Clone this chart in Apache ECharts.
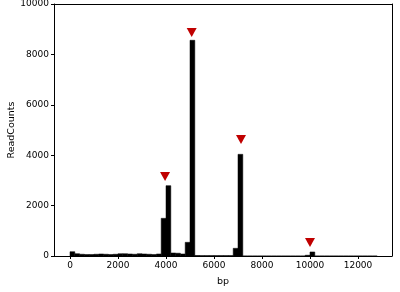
<!DOCTYPE html>
<html><head><meta charset="utf-8">
<script src="https://cdn.jsdelivr.net/npm/echarts@6/dist/echarts.min.js"></script>
<style>html,body{margin:0;padding:0;background:#fff}#c{width:400px;height:292px}</style>
</head><body><div id="c"></div>
<script>
// Histogram bins (start bp, width 200)
const binWidth = 200;
const binStarts = [0,200,400,600,800,1000,1200,1400,1600,1800,2000,2200,2400,2600,2800,3000,3200,3400,3600,3800,4000,4200,4400,4600,4800,5000,5200,5400,5600,5800,6000,6200,6400,6600,6800,7000,7200,7400,7600,7800,8000,8200,8400,8600,8800,9000,9200,9400,9600,9800,10000,10200,10400,10600,10800,11000,11200,11400,11600,11800,12000,12200,12400,12600];
const readCounts = [170,90,70,60,60,70,80,70,60,70,90,90,80,70,90,80,70,60,80,1495,2790,120,110,80,543,8560,20,15,15,15,15,15,15,15,305,4035,0,0,0,0,0,0,0,0,0,0,0,0,0,30,160,0,0,0,0,0,0,0,0,0,0,0,0,0];
// Peak markers
const peakX = [3960, 5070, 7125, 10000];
const peakY = [3150, 8870, 4620, 540];
// Tick labels
const xTicks = [0,2000,4000,6000,8000,10000,12000];
const yTicks = [0,2000,4000,6000,8000,10000];

const font = 'DejaVu Sans';
const xMin = -667, xMax = 13417;
const frameAxis = {show:true,axisLine:{show:true,onZero:false,lineStyle:{color:'#000',width:1}},axisTick:{show:false},axisLabel:{show:false},splitLine:{show:false}};
const chart = echarts.init(document.getElementById('c'), null, {renderer:'canvas'});
chart.setOption({
  animation:false,
  grid:{left:54,right:8,top:4,bottom:36,outerBoundsMode:'none',containLabel:false},
  xAxis:[{type:'value',min:xMin,max:xMax,position:'bottom',
    name:'bp',nameLocation:'middle',nameGap:21,nameMoveOverlap:false,nameTextStyle:{fontFamily:font,fontSize:9.5,color:'#000'},
    splitLine:{show:false},
    axisLine:{show:true,onZero:false,lineStyle:{color:'#000'}},
    axisTick:{show:true,customValues:xTicks,length:3,lineStyle:{color:'#000'}},
    axisLabel:{customValues:xTicks,formatter:v=>String(v),fontFamily:font,fontSize:9,color:'#000',margin:5}},
    Object.assign({type:'value',min:xMin,max:xMax,position:'top'},frameAxis)],
  yAxis:[{type:'value',min:0,max:10000,interval:2000,position:'left',
    name:'ReadCounts',nameLocation:'middle',nameGap:37,nameMoveOverlap:false,nameTextStyle:{fontFamily:font,fontSize:9.5,color:'#000'},
    splitLine:{show:false},
    axisLine:{show:true,onZero:false,lineStyle:{color:'#000'}},
    axisTick:{show:true,customValues:yTicks,length:3,lineStyle:{color:'#000'}},
    axisLabel:{customValues:yTicks,formatter:v=>String(v),fontFamily:font,fontSize:9,color:'#000',margin:5}},
    Object.assign({type:'value',min:0,max:10000,position:'right'},frameAxis)],
  series:[
    {type:'custom',xAxisIndex:0,yAxisIndex:0,
     data:binStarts.map((s,i)=>[s,s+binWidth,readCounts[i]]),
     renderItem:function(params,api){
       const p0 = api.coord([api.value(0), api.value(2)]);
       const p1 = api.coord([api.value(1), 0]);
       return {type:'rect',shape:{x:p0[0],y:p0[1],width:p1[0]-p0[0],height:p1[1]-p0[1]},
         style:{fill:'#000',stroke:'#000',lineWidth:0.5}};
     },
     encode:{x:[0,1],y:2}, z:2},
    {type:'scatter',xAxisIndex:0,yAxisIndex:0,symbol:'triangle',symbolRotate:180,symbolSize:[10,9],
     itemStyle:{color:'#c00000',opacity:1},
     data:peakX.map((x,i)=>[x,peakY[i]]), z:3}
  ]
});
</script></body></html>
